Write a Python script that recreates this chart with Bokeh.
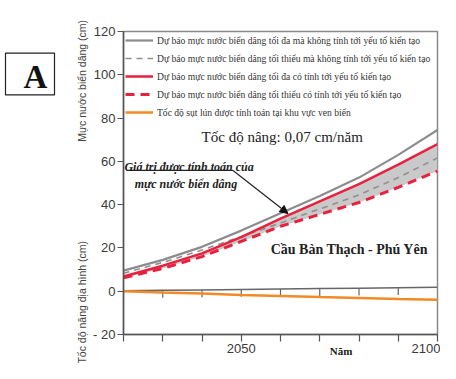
import math
from bokeh.plotting import figure
from bokeh.layouts import row
from bokeh.models import (ColumnDataSource, Label, Arrow, NormalHead, Legend,
                          LegendItem, FixedTicker, Range1d)
from bokeh.core.properties import value
from bokeh.embed import file_html
from bokeh.resources import INLINE

# ---------------- data ----------------
years = [2020, 2030, 2040, 2050, 2060, 2070, 2080, 2090, 2100]
max_no_tect = [9.5, 14.5, 20.5, 28.0, 36.0, 44.0, 52.5, 63.0, 74.5]
min_no_tect = [8.3, 13.3, 19.0, 25.3, 31.5, 38.0, 44.5, 52.5, 61.6]
max_tect = [6.8, 11.8, 17.5, 25.0, 33.5, 41.5, 49.5, 58.5, 68.0]
min_tect = [6.2, 10.5, 16.0, 23.0, 30.0, 35.5, 41.0, 48.0, 55.5]
subsidence = [0.0, -0.6, -1.1, -1.7, -2.2, -2.7, -3.1, -3.6, -4.0]
uplift = [0.2, 0.4, 0.6, 0.8, 1.0, 1.2, 1.4, 1.6, 1.8]
inner_years = [2030, 2040, 2050, 2060, 2070, 2080, 2090]
inner_uplift = [0.4, 0.6, 0.8, 1.0, 1.2, 1.4, 1.6]

y_ticks = [-20, 0, 20, 40, 60, 80, 100, 120]
y_tick_labels = {-20: "- 20"}
x_ticks = [2020, 2030, 2040, 2050, 2060, 2070, 2080, 2090, 2100]
x_tick_labels = {2020: "", 2030: "", 2040: "", 2050: "2050", 2060: "",
                 2070: "", 2080: "", 2090: "", 2100: "2100"}

legend_labels = [
    "Dự báo mực nước biển dâng tối đa mà không tính tới yếu tố kiến tạo",
    "Dự báo mực nước biển dâng tối thiểu mà không tính tới yếu tố kiến tạo",
    "Dự báo mực nước biển dâng tối đa có tính tới yếu tố kiến tạo",
    "Dự báo mực nước biển dâng tối thiểu có tính tới yếu tố kiến tạo",
    "Tốc độ sụt lún được tính toán tại khu vực ven biển",
]
y_title_top = "Mực nước biển dâng (cm)"
y_title_bottom = "Tốc độ nâng địa hình (cm)"
x_title = "Năm"
panel_letter = "A"

SERIF = "Liberation Serif"
SANS = "Liberation Sans"
NB = "\u00a0"

src = ColumnDataSource(dict(year=years, max_no=max_no_tect, min_no=min_no_tect,
                            max_t=max_tect, min_t=min_tect, sub=subsidence,
                            up=uplift))
tick_src = ColumnDataSource(dict(x=inner_years, y0=inner_uplift,
                                 y1=[v - 3.4 for v in inner_uplift]))

# ---------------- panel letter figure ----------------
fa = figure(width=62, height=363, output_backend="svg", toolbar_location=None,
            x_range=Range1d(0, 62), y_range=Range1d(363, 0),
            x_axis_type=None, y_axis_type=None, min_border=0)
fa.grid.visible = False
fa.outline_line_color = None
fa.background_fill_color = "white"
fa.border_fill_color = "white"
fa.quad(left=[5], right=[54], top=[26], bottom=[76], fill_color="white",
        line_color="#222222", line_width=1.2)
fa.text(x=[35], y=[54], text=[panel_letter], text_font=value(SERIF),
        text_font_size="33px", text_font_style="bold", text_color="#111111",
        text_align="center", text_baseline="middle")

# ---------------- main figure ----------------
p = figure(width=378, height=363, output_backend="svg", toolbar_location=None,
           x_range=Range1d(2020, 2100), y_range=Range1d(-20, 120),
           min_border_left=61, min_border_right=3, min_border_top=31,
           min_border_bottom=29)
p.background_fill_color = "white"
p.border_fill_color = "white"
p.grid.visible = False
p.outline_line_color = "#8a8a8a"
p.outline_line_width = 1.5

p.yaxis.ticker = FixedTicker(ticks=y_ticks)
p.yaxis.major_label_overrides = y_tick_labels
p.xaxis.ticker = FixedTicker(ticks=x_ticks)
p.xaxis.major_label_overrides = x_tick_labels
for ax in (p.xaxis[0], p.yaxis[0]):
    ax.axis_line_color = "#555555"
    ax.axis_line_width = 1.5
    ax.major_tick_line_color = "#555555"
    ax.major_tick_line_width = 1.2
    ax.minor_tick_line_color = None
    ax.major_tick_in = 0
    ax.major_label_text_font = SANS
    ax.major_label_text_font_size = "13px"
    ax.major_label_text_color = "#3a3a3a"
p.yaxis.major_tick_out = 6
p.yaxis.major_label_standoff = 2
p.xaxis.major_tick_out = 7
p.xaxis.major_label_standoff = 2
p.xaxis.major_label_text_align = "right"

# axis titles
p.yaxis.axis_label = y_title_bottom + NB * 34 + y_title_top + NB * 6
p.yaxis.axis_label_text_font = SANS
p.yaxis.axis_label_text_font_size = "10.5px"
p.yaxis.axis_label_text_font_style = "normal"
p.yaxis.axis_label_text_color = "#444444"
p.yaxis.axis_label_standoff = 2
p.xaxis.axis_label = NB * 44 + x_title
p.xaxis.axis_label_text_font = SERIF
p.xaxis.axis_label_text_font_size = "11px"
p.xaxis.axis_label_text_font_style = "bold"
p.xaxis.axis_label_text_color = "#222222"
p.xaxis.axis_label_standoff = -11

# series
p.varea(x="year", y1="min_t", y2="max_t", source=src, fill_color="#c9c9c9",
        fill_alpha=1.0)
r_min_no = p.line("year", "min_no", source=src, line_color="#8f8f8f",
                  line_width=1.6, line_dash="6 5")
r_min_t = p.line("year", "min_t", source=src, line_color="#e8213f",
                 line_width=3, line_dash="9 6")
r_max_t = p.line("year", "max_t", source=src, line_color="#e8213f",
                 line_width=2.5)
r_max_no = p.line("year", "max_no", source=src, line_color="#8c8c8c",
                  line_width=2.2)
p.line("year", "up", source=src, line_color="#666666", line_width=1.5)
p.segment(x0="x", y0="y0", x1="x", y1="y1", source=tick_src,
          line_color="#666666", line_width=1.2)
r_sub = p.line("year", "sub", source=src, line_color="#f28a25", line_width=2.5)

legend = Legend(items=[
    LegendItem(label=legend_labels[0], renderers=[r_max_no]),
    LegendItem(label=legend_labels[1], renderers=[r_min_no]),
    LegendItem(label=legend_labels[2], renderers=[r_max_t]),
    LegendItem(label=legend_labels[3], renderers=[r_min_t]),
    LegendItem(label=legend_labels[4], renderers=[r_sub]),
], location="top_left")
legend.margin = 0
legend.padding = 2
legend.spacing = 4
legend.glyph_width = 28
legend.glyph_height = 14
legend.label_height = 14
legend.label_standoff = 4
legend.label_text_font = SERIF
legend.label_text_font_size = "9.6px"
legend.label_text_color = "#333333"
legend.background_fill_alpha = 0
legend.border_line_alpha = 0
p.add_layout(legend)

# texts inside the plot
p.add_layout(Label(x=2039.9, y=71.3, text="Tốc độ nâng: 0,07 cm/năm",
                   text_font=SERIF, text_font_size="15px", text_color="#222222",
                   text_baseline="alphabetic"))
p.add_layout(Label(x=2057.5, y=19.1, text="Cầu Bàn Thạch - Phú Yên",
                   text_font=SERIF, text_font_size="14px", text_font_style="bold",
                   text_color="#222222", text_baseline="alphabetic"))
p.add_layout(Label(x=2036.7, y=57.2, text="Giá trị được tính toán của",
                   text_font=SERIF, text_font_size="12px",
                   text_font_style="bold italic", text_color="#222222",
                   text_align="center", text_baseline="alphabetic"))
p.add_layout(Label(x=2035.9, y=49.6, text="mực nước biển dâng",
                   text_font=SERIF, text_font_size="12px",
                   text_font_style="bold italic", text_color="#222222",
                   text_align="center", text_baseline="alphabetic"))
p.add_layout(Arrow(end=None, x_start=2021.0, y_start=55.8, x_end=2047.9,
                   y_end=55.8, line_color="#222222", line_width=1.2))
p.add_layout(Arrow(end=NormalHead(size=8, fill_color="#111111",
                                  line_color="#111111"),
                   x_start=2047.9, y_start=55.8, x_end=2061.9, y_end=35.9,
                   line_color="#222222", line_width=1.2))

layout = row(fa, p)
open("out.html", "w").write(file_html(layout, INLINE))
